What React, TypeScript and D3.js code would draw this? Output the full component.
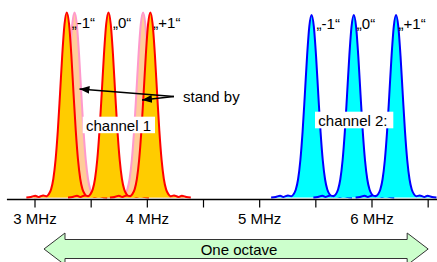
import React from "react";
import * as d3 from "d3";

// ---- data ----
const ch1Centers = [3.283, 3.654, 4.027];
const ch1Heights = [100, 100, 100];
const standbyCenters = [3.352, 3.962];
const standbyHeights = [100, 100];
const ch2Centers = [5.462, 5.838, 6.214];
const ch2Heights = [98.6, 98.6, 98.6];
const peakLabels = ["\u201E-1\u201C", "\u201E0\u201C", "\u201E+1\u201C"];
const tickValues = [3, 3.5, 4, 4.5, 5, 5.5, 6, 6.5];
const tickLabels = ["3 MHz", "", "4 MHz", "", "5 MHz", "", "6 MHz", ""];
// normalized single-peak profile (offset in MHz, relative level)
const profileOffsets = [-0.36, -0.32, -0.28, -0.25, -0.21, -0.18, -0.16, -0.14, -0.12, -0.1, -0.08, -0.06, -0.04, -0.02, 0,
  0.02, 0.04, 0.06, 0.08, 0.1, 0.12, 0.14, 0.16, 0.18, 0.21, 0.25, 0.28, 0.32, 0.36];
const profileLevels = [0, 0.003, 0.01, 0.003, 0.011, 0.007, 0.018, 0.044, 0.1, 0.203, 0.36, 0.563, 0.775, 0.938, 1,
  0.938, 0.775, 0.563, 0.36, 0.203, 0.1, 0.044, 0.018, 0.007, 0.011, 0.003, 0.01, 0.003, 0];
const octaveRange = [3.08, 6.5];
const standbyOrigin = [4.237, 54.6];
const standbyTargets = [[3.396, 58.6], [3.9525, 52.7]];

const W = 437, H = 262;
const FONT = "'Liberation Sans', Arial, sans-serif";

export default function App() {
  const x = d3.scaleLinear().domain([3, 6]).range([35, 372]);
  const y = d3.scaleLinear().domain([0, 100]).range([197.5, 12.5]);
  const axisY = 199.5;

  const peakPts = (c: number, h: number) =>
    profileOffsets.map((o, i) => [c + o, profileLevels[i] * h] as [number, number]);
  const area = d3.area<[number, number]>()
    .x(d => x(d[0])).y0(y(0)).y1(d => y(d[1])).curve(d3.curveMonotoneX);
  const line = d3.line<[number, number]>()
    .x(d => x(d[0])).y(d => y(d[1])).curve(d3.curveMonotoneX);

  const peak = (c: number, h: number, fill: string, stroke: string, key: string) => {
    const pts = peakPts(c, h);
    return (
      <g key={key}>
        <path d={area(pts) || ""} fill={fill} />
        <path d={line(pts) || ""} fill="none" stroke={stroke} strokeWidth={2} strokeLinejoin="round" />
      </g>
    );
  };

  // octave arrow
  const ax0 = x(octaveRange[0]), ax1 = x(octaveRange[1]);
  const ay = 249, headL = 21, headH = 16, shaftH = 9.5;
  const arrowPts = [
    [ax0, ay], [ax0 + headL, ay - headH], [ax0 + headL, ay - shaftH], [ax1 - headL, ay - shaftH],
    [ax1 - headL, ay - headH], [ax1, ay], [ax1 - headL, ay + headH], [ax1 - headL, ay + shaftH],
    [ax0 + headL, ay + shaftH], [ax0 + headL, ay + headH],
  ].map(p => p.join(",")).join(" ");

  const ox = x(standbyOrigin[0]), oy = y(standbyOrigin[1]);

  return (
    <svg width={W} height={H} style={{ position: "absolute", left: 0, top: 0 }} fontFamily={FONT}>
      <defs>
        <marker id="ah" viewBox="0 0 10 8" refX={10} refY={4} markerWidth={10} markerHeight={8}
          markerUnits="userSpaceOnUse" orient="auto">
          <path d="M0,0 L10,4 L0,8 Z" fill="#000" />
        </marker>
      </defs>
      {standbyCenters.map((c, i) => peak(c, standbyHeights[i], "#FFCC99", "#FF99CC", "s" + i))}
      {ch1Centers.map((c, i) => peak(c, ch1Heights[i], "#FFCC00", "#FF0000", "a" + i))}
      {ch2Centers.map((c, i) => peak(c, ch2Heights[i], "#00FFFF", "#0000FF", "b" + i))}

      {/* axis */}
      <line x1={x(2.75)} x2={W} y1={axisY} y2={axisY} stroke="#000" strokeWidth={1.5} />
      {tickValues.map((t, i) => (
        <g key={"t" + i}>
          <line x1={x(t)} x2={x(t)} y1={axisY} y2={axisY + 8} stroke="#000" strokeWidth={1.2} />
          {tickLabels[i] && (
            <text x={x(t)} y={224} textAnchor="middle" fontSize={15} fill="#000">{tickLabels[i]}</text>
          )}
        </g>
      ))}

      {/* peak labels */}
      {ch1Centers.map((c, i) => (
        <text key={"l1" + i} x={x(c) + [5, 4.5, 3][i]} y={28} fontSize={15} fill="#000">{peakLabels[i]}</text>
      ))}
      {ch2Centers.map((c, i) => (
        <text key={"l2" + i} x={x(c) + [5, 3, 2.5][i]} y={29} fontSize={15} fill="#000">{peakLabels[i]}</text>
      ))}

      {/* channel boxes */}
      <rect x={82.7} y={116.7} width={72.3} height={16.5} fill="#fff" />
      <text x={86} y={130.5} fontSize={15} fill="#000">channel 1</text>
      <rect x={315} y={111.7} width={78.3} height={16.6} fill="#fff" />
      <text x={318.3} y={126} fontSize={15} fill="#000">channel 2:</text>

      {/* stand by */}
      {standbyTargets.map((t, i) => (
        <line key={"sb" + i} x1={ox} y1={oy} x2={x(t[0])} y2={y(t[1])} stroke="#000" strokeWidth={1.5}
          markerEnd="url(#ah)" />
      ))}
      <text x={183} y={102} fontSize={15} fill="#000">stand by</text>

      {/* octave arrow */}
      <polygon points={arrowPts} fill="#CCFFCC" stroke="#333" strokeWidth={1} />
      <text x={(ax0 + ax1) / 2 + 3} y={254.5} textAnchor="middle" fontSize={15} fill="#000">One octave</text>
    </svg>
  );
}
